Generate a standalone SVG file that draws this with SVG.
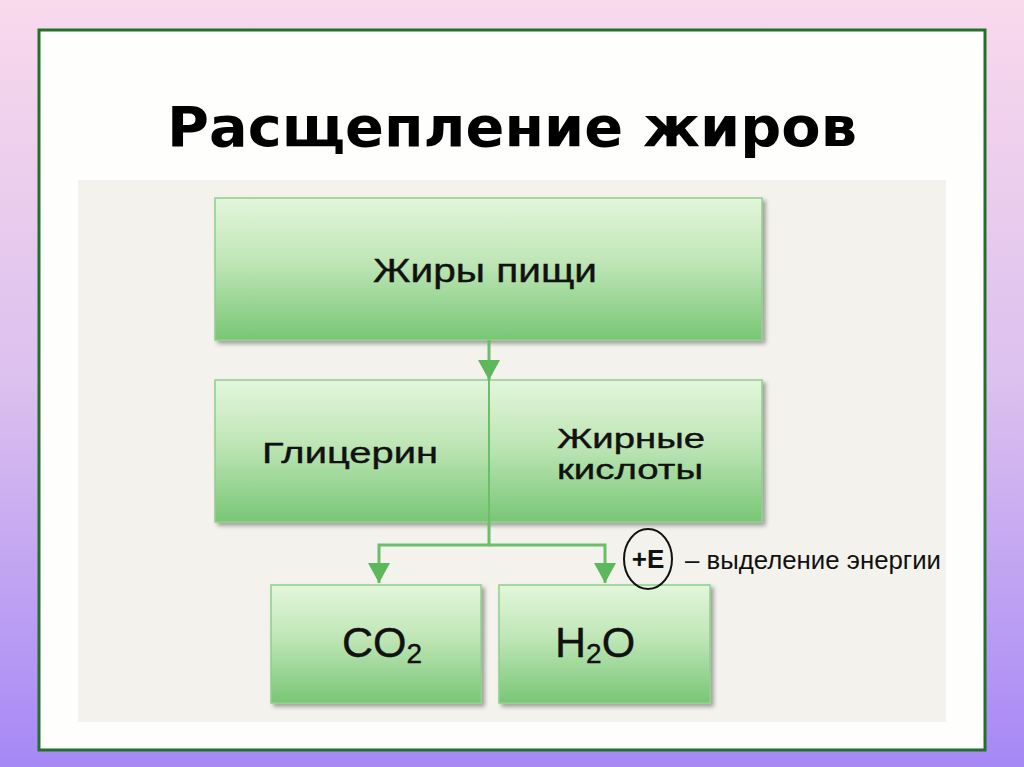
<svg xmlns="http://www.w3.org/2000/svg" width="1024" height="767" viewBox="0 0 1024 767">
<defs>
<linearGradient id="bg" x1="0" y1="0" x2="0" y2="1">
<stop offset="0" stop-color="#f9d9ec"/>
<stop offset="0.5" stop-color="#dcc0ee"/>
<stop offset="1" stop-color="#a688f6"/>
</linearGradient>
<linearGradient id="box" x1="0" y1="0" x2="0" y2="1">
<stop offset="0" stop-color="#e3f6dc"/>
<stop offset="0.45" stop-color="#bfe6b6"/>
<stop offset="1" stop-color="#78c676"/>
</linearGradient>
<filter id="sh" x="-5%" y="-5%" width="115%" height="120%">
<feDropShadow dx="3" dy="3" stdDeviation="2" flood-color="#000" flood-opacity="0.35"/>
</filter>
<marker id="ah" viewBox="0 0 20 22" refX="20" refY="11" markerWidth="20" markerHeight="22" markerUnits="userSpaceOnUse" orient="auto">
<path d="M0,0 L20,11 L0,22 Z" fill="#5cb85a"/>
</marker>
<style>
.box{fill:url(#box);stroke:#8fd08b;stroke-width:1.5;filter:url(#sh)}
.lbl{font-family:"Liberation Sans",Arial,sans-serif;fill:#111;stroke:#111;stroke-width:0.4;text-anchor:middle}
.con{fill:none;stroke:#6cbf69;stroke-width:3}
</style>
</defs>
<rect width="1024" height="767" fill="url(#bg)"/>
<rect x="39" y="30" width="946" height="720" fill="#fefefc" stroke="#22702a" stroke-width="3"/>
<rect x="78" y="180" width="868" height="542" fill="#f3f2ec"/>
<text x="512" y="146" font-family="DejaVu Sans, sans-serif" font-weight="bold" font-size="56" text-anchor="middle" fill="#000" textLength="690" lengthAdjust="spacingAndGlyphs">Расщепление жиров</text>

<g id="n-fats">
<rect class="box" x="215" y="198" width="547" height="142"/>
<text class="lbl" x="485" y="282" font-size="33" textLength="224" lengthAdjust="spacingAndGlyphs">Жиры пищи</text>
</g>
<g id="n-split">
<rect class="box" x="215" y="380" width="547" height="142"/>
<line x1="489" y1="380" x2="489" y2="522" stroke="#6cbf69" stroke-width="2"/>
<text class="lbl" x="350" y="463" font-size="30" textLength="176" lengthAdjust="spacingAndGlyphs">Глицерин</text>
<text class="lbl" x="631" y="448" font-size="28" textLength="148" lengthAdjust="spacingAndGlyphs">Жирные</text>
<text class="lbl" x="630" y="479" font-size="28" textLength="146" lengthAdjust="spacingAndGlyphs">кислоты</text>
</g>
<g id="n-co2">
<rect class="box" x="271" y="585" width="210" height="118"/>
<text class="lbl" x="342" y="657" font-size="43" style="text-anchor:start">CO<tspan font-size="28" dy="6">2</tspan></text>
</g>
<g id="n-h2o">
<rect class="box" x="499" y="585" width="211" height="118"/>
<text class="lbl" x="555" y="657" font-size="43" style="text-anchor:start">H<tspan font-size="28" dy="6">2</tspan><tspan dy="-6">O</tspan></text>
</g>

<g id="connectors">
<path class="con" d="M489,340 V380" marker-end="url(#ah)"/>
<path class="con" d="M489,522 V545 H379 V583" marker-end="url(#ah)"/>
<path class="con" d="M489,545 H605 V583" marker-end="url(#ah)"/>
</g>

<g id="energy">
<ellipse cx="648" cy="559" rx="24" ry="30" fill="none" stroke="#111" stroke-width="2"/>
<text x="648" y="568" font-family="Liberation Sans, Arial, sans-serif" font-weight="bold" font-size="26" text-anchor="middle" fill="#111">+E</text>
<text x="685" y="569" font-family="Liberation Sans, Arial, sans-serif" font-size="25" fill="#111" textLength="256" lengthAdjust="spacingAndGlyphs">– выделение энергии</text>
</g>
</svg>
